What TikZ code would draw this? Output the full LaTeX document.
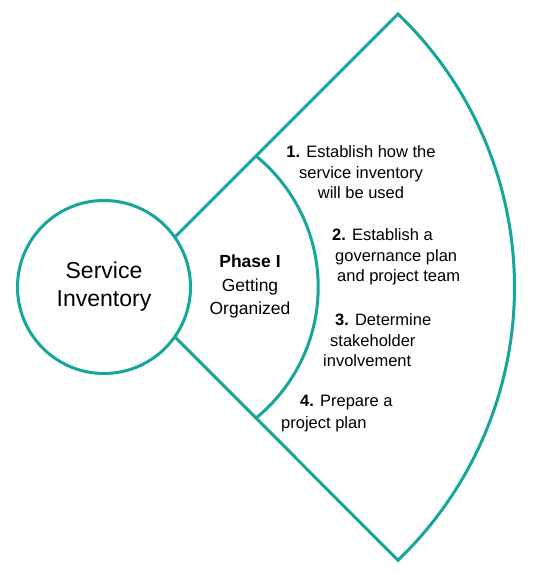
\documentclass[tikz,border=0pt]{standalone}
\usepackage{fontspec}
\setmainfont{Liberation Sans}
\definecolor{teal}{RGB}{22,166,154}
\begin{document}
\begin{tikzpicture}[x=1pt,y=1pt,
	rim/.style={draw=teal,line width=3pt},
	steptext/.style={inner sep=0pt,font=\fontsize{16.5}{20.5}\selectfont}]
	\useasboundingbox (0,0) rectangle (534,573);
	\coordinate (apex) at (125,286);
	\coordinate (outtop) at (398,559);
	\coordinate (outbot) at (398,13);
	\coordinate (intop) at (256,417);

	% outer sector and inner arc
	\draw[rim,line join=miter] (apex) -- (outtop)
	arc [start angle=46.2,end angle=-46.2,radius=378.4] -- cycle;
	\draw[rim] (intop) arc [start angle=50.8,end angle=-50.8,radius=169.1];

	\node[rim,fill=white,circle,minimum size=173pt,inner sep=0pt,
	align=center,font=\fontsize{23}{28}\selectfont] (inv) at (104,286)
	{Service\\Inventory};

	\node[inner sep=0pt,align=center,font=\fontsize{17.5}{23.5}\selectfont]
	(phase) at (250,286.5) {\textbf{Phase I}\\Getting\\Organized};

	\node[steptext,align=center] (step1) at (361,400.5)
	{\textbf{1.} Establish how the\\service inventory\\will be used};
	\node[steptext,align=left,anchor=west] (step2) at (332,316)
	{\textbf{2.} Establish a\\\hspace*{3pt}governance plan\\\hspace*{5pt}and project team};
	\node[steptext,align=left,anchor=west] (step3) at (323,232.5)
	{\hspace*{12pt}\textbf{3.} Determine\\\hspace*{7pt}stakeholder\\involvement};
	\node[steptext,align=left,anchor=west,font=\fontsize{16.5}{22}\selectfont]
	(step4) at (281,159)
	{\hspace*{19pt}\textbf{4.} Prepare a\\project plan};
\end{tikzpicture}
\end{document}
